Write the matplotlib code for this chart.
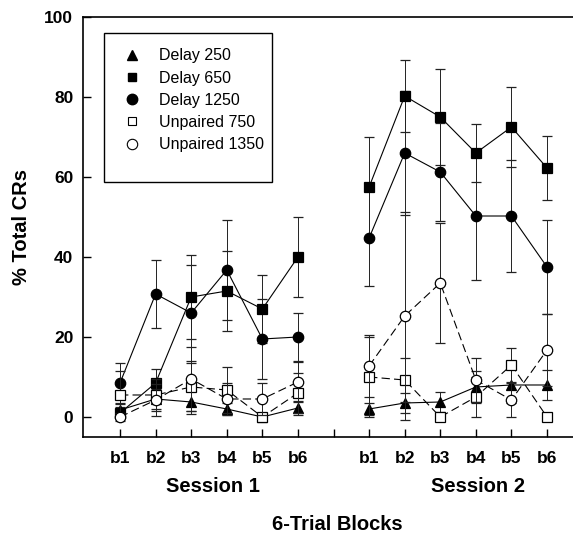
import matplotlib
matplotlib.use("Agg")
import matplotlib.pyplot as plt
import matplotlib.transforms as mtransforms
from matplotlib.lines import Line2D
from matplotlib.patches import Rectangle

# ----------------------------------------------------------------------------------------------------------------------

plt.rcParams["font.family"] = ["Liberation Sans", "DejaVu Sans"]
plt.rcParams["lines.scale_dashes"] = False

# Block positions for each session (gap at 7 separates the sessions)
blocks_s1 = [1, 2, 3, 4, 5, 6]
blocks_s2 = [8, 9, 10, 11, 12, 13]
block_labels = ["b1", "b2", "b3", "b4", "b5", "b6"]
session_names = ["Session 1", "Session 2"]

# % Total CRs (mean) and error bar half-widths
delay250_s1 = [1.75, 4.5, 3.75, 2.0, 0.0, 2.25]
delay250_s1_err = [1.5, 2.5, 3.0, 1.5, 0.5, 1.75]
delay250_s2 = [2.0, 3.5, 3.75, 7.5, 8.0, 8.0]
delay250_s2_err = [1.5, 2.5, 2.5, 4.0, 4.5, 3.75]

delay650_s1 = [1.0, 8.5, 30.0, 31.5, 27.0, 40.0]
delay650_s1_err = [1.5, 3.5, 10.5, 10.0, 8.5, 10.0]
delay650_s2 = [57.5, 80.25, 75.0, 66.0, 72.5, 62.25]
delay650_s2_err = [12.5, 9.0, 12.0, 7.25, 10.0, 8.0]

delay1250_s1 = [8.5, 30.75, 26.0, 36.75, 19.5, 20.0]
delay1250_s1_err = [5.0, 8.5, 12.0, 12.5, 10.0, 6.0]
delay1250_s2 = [44.75, 66.0, 61.25, 50.25, 50.25, 37.5]
delay1250_s2_err = [12.0, 15.5, 12.25, 16.0, 14.0, 11.75]

unpaired750_s1 = [5.5, 5.5, 7.5, 6.75, 0.0, 6.0]
unpaired750_s1_err = [6.0, 4.0, 6.0, 5.75, 0.5, 5.0]
unpaired750_s2 = [10.0, 9.25, 0.0, 5.0, 13.0, 0.0]
unpaired750_s2_err = [10.0, 5.5, 0.5, 5.0, 4.25, 1.0]

unpaired1350_s1 = [0.0, 4.25, 9.5, 4.5, 4.5, 8.75]
unpaired1350_s1_err = [1.0, 4.0, 8.0, 4.0, 4.0, 5.0]
unpaired1350_s2 = [12.75, 25.25, 33.5, 9.25, 4.25, 16.75]
unpaired1350_s2_err = [7.75, 26.0, 15.0, 5.5, 4.25, 9.0]

# ----------------------------------------------------------------------------------------------------------------------


def plot_group(ax, s1, s1_err, s2, s2_err, marker, filled, dashed, ms, z):
    """
    Draw one group's two sessions as separate line segments with error bars.
    """

    face = "black" if filled else "white"
    style = dict(color="black", lw=0.8, marker=marker, ms=ms, mfc=face, mec="black", mew=0.9,
                 ecolor="#222222", elinewidth=0.7, capsize=3.5, capthick=0.7, zorder=z)
    if dashed:
        style["dashes"] = (6, 3)

    for xs, ys, errs in [(blocks_s1, s1, s1_err), (blocks_s2, s2, s2_err)]:
        ax.errorbar(xs, ys, yerr=errs, **style)


fig = plt.figure(figsize=(5.73, 5.35), dpi=100)
ax = fig.add_axes([0.1449, 0.1832, 0.8551, 0.785])

# Draw the five groups | open markers on top
plot_group(ax, delay650_s1, delay650_s1_err, delay650_s2, delay650_s2_err, "s", True, False, 6.5, 3)
plot_group(ax, delay1250_s1, delay1250_s1_err, delay1250_s2, delay1250_s2_err, "o", True, False, 7.5, 3)
plot_group(ax, delay250_s1, delay250_s1_err, delay250_s2, delay250_s2_err, "^", True, False, 7.5, 4)
plot_group(ax, unpaired750_s1, unpaired750_s1_err, unpaired750_s2, unpaired750_s2_err, "s", False, True, 6.5, 5)
plot_group(ax, unpaired1350_s1, unpaired1350_s1_err, unpaired1350_s2, unpaired1350_s2_err, "o", False, True, 7.5, 6)

# Axes limits, spines and ticks
ax.set_xlim(-0.04, 13.73)
ax.set_ylim(-5, 100)
ax.spines["right"].set_visible(False)
for side in ["left", "bottom", "top"]:
    ax.spines[side].set_linewidth(1.2)

ax.set_yticks([0, 20, 40, 60, 80, 100])
ax.set_xticks(blocks_s1 + [7] + blocks_s2)
ax.set_xticklabels(block_labels + [""] + block_labels)
ax.tick_params(axis="y", direction="in", length=6, width=1, pad=7, labelsize=12.5)
ax.tick_params(axis="x", direction="in", length=6, width=1, pad=10, labelsize=12.5)
for lbl in ax.get_xticklabels() + ax.get_yticklabels():
    lbl.set_fontweight("bold")

# Session names under the block labels
trans = mtransforms.blended_transform_factory(ax.transData, fig.transFigure)
for xpos, name in zip([3.6, 11.05], session_names):
    ax.text(xpos, 1 - 487 / 535, name, transform=trans, ha="center", va="center",
            fontsize=14.5, fontweight="bold")

fig.text(337 / 573, 1 - 524 / 535, "6-Trial Blocks", ha="center", va="center",
         fontsize=14.5, fontweight="bold")
fig.text(22 / 573, 1 - 227 / 535, "% Total CRs", ha="center", va="center", rotation=90,
         fontsize=14.5, fontweight="bold")

# Legend with marker-only handles | box drawn separately to match the taller frame
handles = [
    Line2D([], [], ls="none", marker="^", ms=7.5, mfc="black", mec="black"),
    Line2D([], [], ls="none", marker="s", ms=6, mfc="black", mec="black"),
    Line2D([], [], ls="none", marker="o", ms=7.5, mfc="black", mec="black"),
    Line2D([], [], ls="none", marker="s", ms=6, mfc="white", mec="black", mew=0.8),
    Line2D([], [], ls="none", marker="o", ms=7.5, mfc="white", mec="black", mew=0.8),
]
names = ["Delay 250", "Delay 650", "Delay 1250", "Unpaired 750", "Unpaired 1350"]
ax.legend(handles, names, loc="upper left", bbox_to_anchor=(116 / 573, 1 - 42 / 535),
          bbox_transform=fig.transFigure, fontsize=11.5, frameon=False,
          borderpad=0.4, labelspacing=0.45, handlelength=1.2, handletextpad=1.1,
          borderaxespad=0)
fig.patches.append(Rectangle((104 / 573, 1 - 182 / 535), 168 / 573, 149 / 535, fill=False,
                             edgecolor="black", lw=1.0, transform=fig.transFigure, zorder=10))

fig.savefig("out.png", dpi=100)
